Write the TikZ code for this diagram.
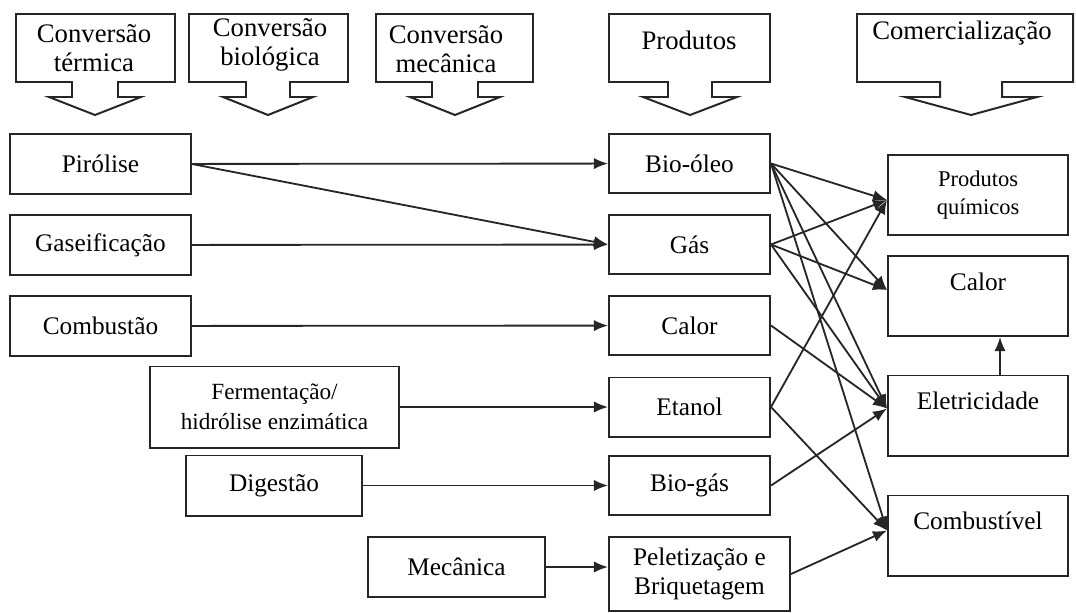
\documentclass[tikz,border=0pt]{standalone}
\usepackage{fontspec}
\setmainfont{Liberation Serif}
\usetikzlibrary{arrows.meta,calc}
\def\downcallout(#1,#2,#3,#4,#5){\draw[callbox] (#1,14) -- (#2,14) -- (#2,82) -- ({#3+#4},82) -- ({#3+#4},97) -- ({#3+#5},97) -- (#3,115) -- ({#3-#5},97) -- ({#3-#4},97) -- ({#3-#4},82) -- (#1,82) -- cycle;}
\tikzset{
	callbox/.style={line width=1.4pt, draw=black!85},
	headtext/.style={align=center, inner sep=0pt, font=\fontsize{19}{20.6}\selectfont},
	procbox/.style={draw=black!85, line width=1.4pt, align=center, inner sep=2pt, font=\fontsize{18}{20.6}\selectfont},
	leftbox/.style={minimum width=4.525cm, minimum height=1.5cm},
	prodbox/.style={minimum width=4.025cm, minimum height=1.475cm},
	endbox/.style={minimum width=4.5cm, minimum height=2cm},
	uptext/.style={text height=13pt, text depth=21pt},
	conn/.style={-{Latex[length=10pt,width=8pt]}, line width=1.3pt, draw=black!85}
}

\begin{document}
\begin{tikzpicture}[x=0.025cm, y=-0.025cm]
		%%%%% START %%%%%
		\useasboundingbox (0,0) rectangle (1076,612);
		
		\downcallout(16,175,95,23,46)
		\downcallout(189,348,268,22,45)
		\downcallout(376,533,455,23,45)
		\downcallout(609,770,690,22,47)
		\downcallout(857,1073,971,31,66)
		
		\node[headtext] (termica) at (94,48) {Conversão\\térmica};
		\node[headtext] (biologica) at (270,45) {Conversão\\biológica};
		\node[headtext] (mecanicahead) at (446,49) {Conversão\\mecânica};
		\node[headtext] (produtos) at (689,40) {Produtos};
		\node[headtext] (comercial) at (962,33) {Comercialização};
		
		\node[procbox, leftbox] (pirolise) at (100.5,164) {Pirólise};
		\node[procbox, leftbox] (gaseif) at (100.5,245) {Gaseificação};
		\node[procbox, leftbox] (combustao) at (100.5,326) {Combustão};
		\node[procbox, minimum width=6.225cm, minimum height=2.025cm, font=\fontsize{16.5}{21}\selectfont] (ferment) at (274.5,407) {Fermentação/\\hidrólise enzimática};
		\node[procbox, minimum width=4.4cm, minimum height=1.5cm] (digestao) at (274,485.5) {Digestão};
		\node[procbox, minimum width=4.425cm, minimum height=1.5cm] (mecanica) at (456.5,567) {Mecânica};
		
		\node[procbox, prodbox] (biooleo) at (689.5,163.5) {Bio-óleo};
		\node[procbox, prodbox] (gas) at (689.5,244.5) {Gás};
		\node[procbox, prodbox] (calorp) at (689.5,325.5) {Calor};
		\node[procbox, prodbox] (etanol) at (689.5,407) {Etanol};
		\node[procbox, prodbox] (biogas) at (689.5,485.5) {Bio-gás};
		\node[procbox, minimum width=4.525cm, minimum height=1.85cm] (pelet) at (699.5,574) {Peletização e\\Briquetagem};
		
		\node[procbox, endbox, font=\fontsize{16}{20}\selectfont] (quimicos) at (978,195) {Produtos\\químicos};
		\node[procbox, endbox, uptext] (calor) at (978,296) {Calor};
		\node[procbox, endbox, uptext] (eletric) at (978,415.5) {Eletricidade};
		\node[procbox, endbox, uptext] (combust) at (978,535.5) {Combustível};
		
		\coordinate (pqin) at ($(quimicos.west)+(0,5)$);
		\coordinate (calin) at ($(calor.west)+(0,-6)$);
		\coordinate (eletin) at ($(eletric.west)+(0,-7)$);
		\coordinate (combin) at ($(combust.west)+(0,-5)$);
		
		\draw[conn] (pirolise) -- (biooleo);
		\draw[conn] (pirolise.east) -- (gas.west);
		\draw[conn] (gaseif) -- (gas);
		\draw[conn] (combustao) -- (calorp);
		\draw[conn] (ferment) -- (etanol);
		\draw[conn] (digestao) -- (biogas);
		\draw[conn] (mecanica.east) -- (mecanica.east -| pelet.west);
		
		\draw[conn] (biooleo.east) -- (pqin);
		\draw[conn] (biooleo.east) -- (calin);
		\draw[conn] (biooleo.east) -- (eletin);
		\draw[conn] (biooleo.east) -- (combin);
		\draw[conn] (gas.east) -- (pqin);
		\draw[conn] (gas.east) -- (calin);
		\draw[conn] (gas.east) -- (eletin);
		\draw[conn] (calorp.east) -- (eletin);
		\draw[conn] (etanol.east) -- (pqin);
		\draw[conn] (etanol.east) -- (combin);
		\draw[conn] (biogas.east) -- (eletin);
		\draw[conn] (pelet.east) -- (combin);
		
		\draw[conn] ([xshift=0.55cm]eletric.north) -- ([xshift=0.55cm]calor.south);
		
		%%%%% END %%%%%
\end{tikzpicture}
\end{document}
